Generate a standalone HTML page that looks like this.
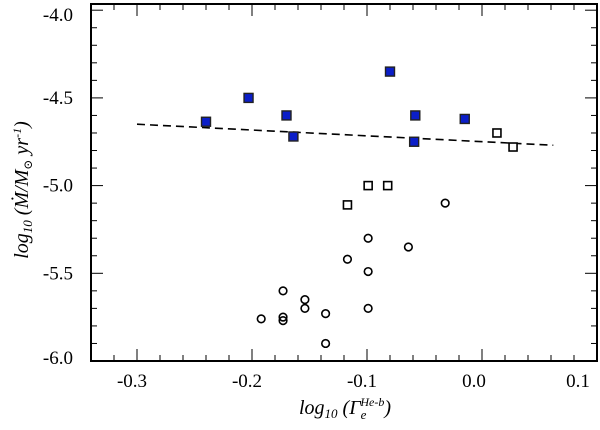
<!DOCTYPE html>
<html><head><meta charset="utf-8"><style>
body{margin:0;background:#fff;width:600px;height:425px;overflow:hidden}
svg text, svg tspan{font-family:'Liberation Serif','Times New Roman',Times,'Nimbus Roman','DejaVu Serif','Noto Serif CJK SC',serif !important;fill:#000}
</style></head><body>
<svg id="chart" width="600" height="425" viewBox="0 0 600 425" xmlns="http://www.w3.org/2000/svg">
<g id="ticks"></g>
<g id="fit"></g>
<g id="marks"></g>
<rect x="91" y="4" width="506" height="357" fill="none" stroke="#000" stroke-width="2"/>
<text x="345" y="414" font-size="20" font-style="italic" text-anchor="middle">log<tspan font-size="13" dy="4">10</tspan><tspan dy="-4"> (Γ</tspan><tspan font-size="13" dy="5">e</tspan><tspan font-size="12" dy="-13" dx="-6">He-b</tspan><tspan dy="8">)</tspan></text>
<text transform="translate(28,190) rotate(-90)" font-size="20" font-style="italic" text-anchor="middle">log<tspan font-size="13" dy="4">10</tspan><tspan dy="-4"> (Ṁ/M</tspan><tspan font-size="12" dy="4">⊙</tspan><tspan dy="-4"> yr</tspan><tspan font-size="12" dy="-7">-1</tspan><tspan dy="7">)</tspan></text>
</svg>
<script>
const xTicks=[-0.3,-0.2,-0.1,0.0,0.1];
const yTicks=[-4.0,-4.5,-5.0,-5.5,-6.0];
const filledX=[-0.240,-0.203,-0.170,-0.164,-0.080,-0.058,-0.059,-0.015];
const filledY=[-4.636,-4.50,-4.60,-4.72,-4.35,-4.60,-4.75,-4.62];
const openSqX=[-0.117,-0.099,-0.082,0.013,0.027];
const openSqY=[-5.11,-5.00,-5.00,-4.70,-4.78];
const circX=[-0.192,-0.173,-0.173,-0.173,-0.154,-0.154,-0.136,-0.136,-0.117,-0.099,-0.099,-0.099,-0.064,-0.032];
const circY=[-5.76,-5.60,-5.75,-5.77,-5.65,-5.70,-5.73,-5.90,-5.42,-5.30,-5.49,-5.70,-5.35,-5.10];
const fitX=[-0.30,0.062];
const fitY=[-4.65,-4.77];
const X=v=>137+(v+0.3)*1150;
const Y=v=>361-(v+6)*175.4;
const NS="http://www.w3.org/2000/svg";
function mk(t,a,p){const e=document.createElementNS(NS,t);for(const k in a)e.setAttribute(k,a[k]);p.appendChild(e);return e;}
const tg=document.getElementById('ticks');
for(let i=-32;i<=10;i+=2){const v=i/100,x=X(v);if(x<92||x>596)continue;const maj=i%10===0;
 const t=mk('line',{x1:x,x2:x,y1:361,y2:361-(maj?12:6),stroke:'#000','stroke-width':1},tg);
 
 
 const t2=mk('line',{x1:x,x2:x,y1:4,y2:4+(maj?12:6),stroke:'#000','stroke-width':1},tg);
 
 }
for(let i=40;i<=60;i++){const v=-i/10,y=Y(v);if(y<5)continue;const maj=i%5===0;
 const t=mk('line',{x1:91,x2:91+(maj?12:6),y1:y,y2:y,stroke:'#000','stroke-width':1},tg);
 
 
 const t2=mk('line',{x1:597,x2:597-(maj?12:6),y1:y,y2:y,stroke:'#000','stroke-width':1},tg);
 
 }
xTicks.forEach(v=>{let x=X(v)-5;if(x>580)x=578;if(v===0)x=X(v)-8;const t=mk('text',{x:x,y:387,'font-size':19,'text-anchor':'middle'},tg);t.textContent=v.toFixed(1);
 
 });
yTicks.forEach(v=>{let y=Y(v);if(y<15)y=15;if(y>355)y=358;const t=mk('text',{x:73,y:y+6,'font-size':19,'text-anchor':'end'},tg);t.textContent=v.toFixed(1);
 
 });
const fl=mk('line',{x1:X(fitX[0]),y1:Y(fitY[0]),x2:X(fitX[1]),y2:Y(fitY[1]),stroke:'#000','stroke-width':1.6,'stroke-dasharray':'8,5'},document.getElementById('fit'));


const mg=document.getElementById('marks');
filledX.forEach((v,i)=>{const r=mk('rect',{x:X(v)-4.5,y:Y(filledY[i])-4.5,width:9,height:9,fill:'#0b1ec8',stroke:'#222','stroke-width':1.4},mg);
 
 });
openSqX.forEach((v,i)=>{const r=mk('rect',{x:X(v)-4,y:Y(openSqY[i])-4,width:8,height:8,fill:'#fff',stroke:'#000','stroke-width':1.6},mg);
 
 });
circX.forEach((v,i)=>{const c=mk('circle',{cx:X(v),cy:Y(circY[i]),r:3.8,fill:'none',stroke:'#000','stroke-width':1.6},mg);
 
 });
</script>
</body></html>
